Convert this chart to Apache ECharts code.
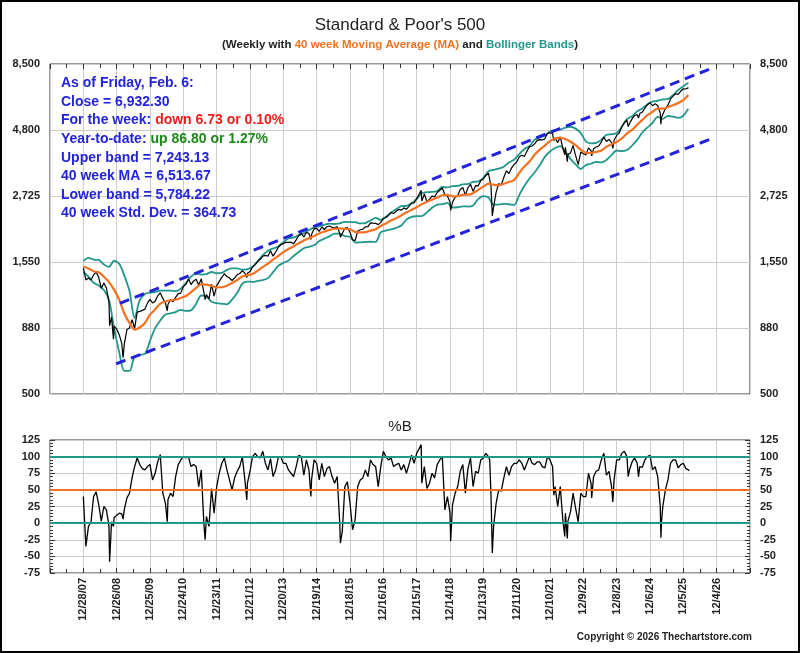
<!DOCTYPE html>
<html>
<head>
<meta charset="utf-8">
<title>Standard & Poor's 500 - weekly with Bollinger Bands</title>
<script src="https://cdn.jsdelivr.net/npm/echarts@6/dist/echarts.min.js"></script>
<style>
  html, body { margin: 0; padding: 0; background: #fff; }
  #chart { width: 800px; height: 653px; }
</style>
</head>
<body>
<div id="chart"></div>
<script>
// x values are weeks counted from Friday 12/28/07 (week 0)
const DATE_LABELS = ['12/28/07', '12/26/08', '12/25/09', '12/24/10', '12/23/11', '12/21/12', '12/20/13',
  '12/19/14', '12/18/15', '12/16/16', '12/15/17', '12/14/18', '12/13/19', '12/11/20', '12/10/21',
  '12/9/22', '12/8/23', '12/6/24', '12/5/25', '12/4/26']

const PRICE_TICKS = ['500', '880', '1,550', '2,725', '4,800', '8,500']

// weekly close, sampled every 4 weeks from week 0
const CLOSE_4W = [
  1478, 1331, 1353, 1330, 1390, 1425, 1360, 1239, 1296, 1242, 1099, 968, 896,
  873, 832, 770, 769, 870, 882, 946, 879, 1010, 1016, 1025, 1036, 1091,
  1126, 1092, 1109, 1160, 1192, 1136, 1092, 1078, 1122, 1105, 1146, 1183, 1189,
  1257, 1283, 1343, 1279, 1320, 1338, 1271, 1344, 1199, 1174, 1131, 1285, 1159,
  1265, 1315, 1361, 1404, 1370, 1353, 1325, 1355, 1391, 1407, 1441, 1411, 1409,
  1430, 1486, 1519, 1561, 1589, 1634, 1643, 1632, 1709, 1633, 1692, 1760, 1804,
  1818, 1839, 1838, 1841, 1815, 1878, 1950, 1985, 1925, 2003, 1982, 1965, 2064,
  2071, 2019, 2097, 2053, 2102, 2116, 2092, 2077, 2104, 1989, 1931, 2075, 2089,
  2005, 1880, 1865, 2022, 2048, 2057, 2099, 2103, 2174, 2169, 2165, 2141, 2182,
  2258, 2275, 2316, 2373, 2355, 2399, 2439, 2423, 2472, 2443, 2502, 2575, 2579,
  2676, 2786, 2620, 2786, 2604, 2663, 2735, 2718, 2819, 2875, 2930, 2768, 2736,
  2600, 2596, 2708, 2743, 2893, 2946, 2752, 2942, 3026, 2847, 2992, 2986, 3120,
  3169, 3265, 3328, 2972, 2489, 2831, 3044, 3009, 3216, 3397, 3319, 3484, 3585,
  3663, 3825, 3887, 3842, 4020, 4181, 4204, 4281, 4412, 4442, 4433, 4471, 4683,
  4712, 4677, 4501, 4329, 4546, 4132, 4158, 3912, 3962, 4228, 3873, 3583, 3993,
  3934, 3895, 4136, 4046, 4109, 4169, 4205, 4348, 4536, 4370, 4450, 4327, 4415,
  4604, 4697, 4959, 5137, 5254, 5100, 5305, 5465, 5505, 5554, 5626, 5815, 5996,
  6090, 5942, 6041, 5955, 5581, 5525, 5803, 5968, 6297, 6450, 6584, 6553, 6729,
  6870, 6858, 6939
]
// extra weekly closes at the turning points [week, close]
const CLOSE_EXTRA = [
  [41, 899], [47, 800], [62, 683], [131, 1022], [190, 1124], [255, 1359], [355, 1887],
  [401, 1921], [527, 2873], [573, 2417], [634, 3338], [638, 2305], [734, 4398], [751, 3901],
  [755, 3675], [793, 3862], [826, 4117], [850, 4967], [866, 5347], [901, 5074], [902, 5363],
  [945, 6932.30]
]

// 40 week moving average and Bollinger bands, every 8 weeks from week 0
const MA_8W = [
  1495, 1470, 1434, 1421, 1368, 1307, 1225, 1123, 998, 920, 869, 885, 920,
  988, 1033, 1086, 1106, 1118, 1123, 1140, 1159, 1199, 1244, 1281, 1279, 1265,
  1249, 1250, 1266, 1297, 1330, 1372, 1387, 1401, 1441, 1489, 1531, 1584, 1637,
  1691, 1737, 1775, 1824, 1869, 1906, 1941, 1984, 2016, 2047, 2066, 2072, 2064,
  2058, 2011, 2001, 2007, 2034, 2058, 2116, 2162, 2216, 2263, 2316, 2375, 2430,
  2486, 2552, 2604, 2653, 2699, 2754, 2763, 2730, 2735, 2765, 2768, 2805, 2884,
  2967, 3043, 3017, 3000, 3040, 3087, 3135, 3337, 3523, 3680, 3897, 4076, 4217,
  4384, 4482, 4521, 4464, 4361, 4232, 4072, 3967, 3956, 3997, 4042, 4175, 4270,
  4353, 4491, 4675, 4825, 5044, 5260, 5476, 5640, 5799, 5790, 5872, 5965, 6076,
  6236, 6505
]
const UPPER_8W = [
  1565, 1610, 1585, 1580, 1520, 1490, 1570, 1530, 1380, 1210, 960, 1120, 1180,
  1195, 1200, 1215, 1215, 1215, 1210, 1235, 1295, 1370, 1405, 1395, 1400, 1425,
  1410, 1415, 1452, 1470, 1470, 1455, 1462, 1492, 1562, 1648, 1710, 1745, 1772,
  1842, 1900, 1915, 1955, 1990, 2043, 2090, 2110, 2135, 2158, 2152, 2165, 2190,
  2188, 2186, 2163, 2170, 2220, 2270, 2228, 2290, 2378, 2444, 2508, 2515, 2573,
  2671, 2800, 2830, 2833, 2857, 2956, 2945, 2980, 2985, 3025, 3035, 3087, 3102,
  3200, 3385, 3425, 3460, 3520, 3650, 3735, 3917, 4100, 4200, 4440, 4520, 4600,
  4760, 4830, 4840, 4920, 4960, 4880, 4700, 4370, 4300, 4320, 4430, 4620, 4650,
  4700, 4960, 5290, 5430, 5660, 5800, 6020, 6150, 6200, 6270, 6300, 6520, 6800,
  7020, 7230
]
const LOWER_8W = [
  1425, 1370, 1300, 1270, 1220, 1120, 880, 715, 610, 610, 690, 700, 705,
  790, 880, 940, 990, 1000, 1010, 1030, 1020, 1025, 1085, 1165, 1155, 1105,
  1090, 1085, 1080, 1125, 1190, 1290, 1312, 1310, 1320, 1330, 1352, 1423, 1502,
  1540, 1574, 1635, 1693, 1748, 1769, 1792, 1858, 1897, 1936, 1980, 1979, 1938,
  1928, 1836, 1839, 1844, 1848, 1846, 2004, 2034, 2054, 2082, 2124, 2235, 2287,
  2301, 2304, 2378, 2473, 2541, 2552, 2581, 2480, 2485, 2505, 2500, 2523, 2666,
  2734, 2701, 2540, 2540, 2560, 2550, 2535, 2757, 2980, 3180, 3350, 3560, 3830,
  4010, 4130, 4200, 4010, 3760, 3590, 3450, 3570, 3610, 3670, 3650, 3730, 3890,
  4045, 4020, 4060, 4220, 4430, 4720, 4930, 5130, 5400, 5310, 5440, 5410, 5350,
  5450, 5780
]
const LAST_WEEK = 945
const LAST_MA = 6513.67
const LAST_UPPER = 7243.13
const LAST_LOWER = 5784.22

// %B every 4 weeks from week 0, plus turning points
const PCTB_4W = [
  40, -35, -5, 2, 40, 47, 28, 3, 25, 20, -5, 2, 8,
  12, 15, 14, 21, 38, 45, 68, 85, 98, 88, 82, 80, 85,
  88, 65, 75, 92, 103, 45, 30, 35, 45, 40, 70, 88, 95,
  100, 98, 100, 85, 88, 85, 55, 80, 0, 10, -5, 52, 15,
  55, 75, 90, 98, 80, 65, 50, 68, 78, 85, 100, 65, 60,
  78, 100, 105, 100, 98, 108, 90, 80, 97, 70, 80, 98, 100,
  90, 90, 80, 75, 70, 85, 102, 100, 72, 95, 80, 65, 95,
  90, 65, 90, 70, 82, 85, 70, 60, 70, 0, -12, 55, 62,
  30, -10, 5, 55, 65, 68, 80, 70, 95, 88, 85, 55, 85,
  108, 100, 95, 98, 85, 88, 90, 80, 88, 75, 88, 102, 90,
  105, 112, 60, 85, 52, 60, 75, 68, 88, 95, 100, 20, 40,
  15, 28, 45, 55, 78, 88, 45, 82, 98, 55, 78, 75, 95,
  98, 105, 100, 40, -5, 30, 50, 48, 68, 85, 72, 85, 90,
  90, 95, 90, 80, 90, 100, 90, 88, 92, 92, 85, 83, 100,
  95, 85, 55, 25, 55, 5, 15, 3, 17, 45, 22, 2, 45,
  40, 40, 75, 60, 70, 78, 80, 95, 105, 72, 78, 55, 65,
  95, 95, 105, 108, 100, 80, 92, 98, 90, 85, 84, 95, 100,
  102, 80, 85, 70, 25, 25, 50, 65, 90, 95, 95, 83, 88,
  90, 82, 80
]
const PCTB_EXTRA = [
  [41, -58], [47, -5], [62, 6], [131, 2], [190, -25], [255, 35], [355, 40], [401, -30],
  [527, 118], [573, -27], [634, 95], [638, -45], [734, 42], [751, -20], [755, -23],
  [793, 38], [826, 32], [850, 70], [866, 70], [901, -22], [902, 3], [945, 78.7]
]

// trend channel drawn by hand on the original: [week, level]
const CHANNEL_UPPER = [[57, 1089], [980, 8190]]
const CHANNEL_LOWER = [[51, 648], [982, 4491]]

const PCTB_LEVELS = [100, 50, 0]

const BLUE = '#2323dc'
const TEAL = '#22978c'
const ORANGE = '#f27221'
const GRIDLINE = '#cccccc'
const AXIS = '#333'
const FONT = 'Liberation Sans, Arial, sans-serif'

function withWeeks(values, step, extra) {
  const pts = values.map((v, i) => [i * step, v]).concat(extra)
  pts.sort((a, b) => a[0] - b[0])
  return pts
}

const closeData = withWeeks(CLOSE_4W, 4, CLOSE_EXTRA)
const maData = withWeeks(MA_8W, 8, [[LAST_WEEK, LAST_MA]])
const upperData = withWeeks(UPPER_8W, 8, [[LAST_WEEK, LAST_UPPER]])
const lowerData = withWeeks(LOWER_8W, 8, [[LAST_WEEK, LAST_LOWER]])
const pctbData = withWeeks(PCTB_4W, 4, PCTB_EXTRA)

function dateLabel(v) {
  const i = Math.round(v / 52)
  if (Math.abs(v - i * 52) > 0.01) return ''
  return DATE_LABELS[i] || ''
}

const labelStyle = { color: '#222', fontFamily: FONT, fontSize: 11, fontWeight: 'bold' }
const noLine = { show: false, onZero: false }

const xBase = {
  type: 'value',
  min: -52,
  max: 1040,
  interval: 52,
  axisLine: noLine,
  axisTick: { show: false },
  axisLabel: { show: false },
  splitLine: { show: false }
}
const xTicks = {
  axisTick: { show: true, inside: true, length: 5, lineStyle: { color: AXIS } },
  minorTick: { show: true, splitNumber: 2, length: 4, lineStyle: { color: AXIS } }
}
const xGridLines = { splitLine: { show: true, lineStyle: { color: GRIDLINE, width: 1 } } }
const pctbTicks = {
  axisTick: { show: true, inside: true, length: 5, lineStyle: { color: AXIS } },
  minorTick: { show: true, splitNumber: 5, length: 3, lineStyle: { color: AXIS } }
}

const chart = echarts.init(document.getElementById('chart'), null, { renderer: 'canvas' })

const option = {
  animation: false,
  backgroundColor: '#fff',
  title: [{
    text: "Standard & Poor's 500",
    subtext: '{d|(Weekly with }{o|40 week Moving Average (MA)}{d| and }{t|Bollinger Bands}{d|)}',
    left: 'center',
    top: 12,
    itemGap: 5,
    textStyle: { fontFamily: FONT, fontSize: 17, fontWeight: 'normal', color: '#222' },
    subtextStyle: {
      rich: {
        d: { fontFamily: FONT, fontSize: 11.5, fontWeight: 'bold', color: '#222' },
        o: { fontFamily: FONT, fontSize: 11.5, fontWeight: 'bold', color: ORANGE },
        t: { fontFamily: FONT, fontSize: 11.5, fontWeight: 'bold', color: TEAL }
      }
    }
  }, {
    text: '%B',
    left: 'center',
    top: 414,
    textStyle: { fontFamily: FONT, fontSize: 15, fontWeight: 'normal', color: '#222' }
  }],
  grid: [
    { left: 50, right: 50, top: 64, height: 330, show: true, borderColor: AXIS, borderWidth: 1, backgroundColor: 'transparent' },
    { left: 50, right: 50, top: 440, height: 133, show: true, borderColor: AXIS, borderWidth: 1, backgroundColor: 'transparent' }
  ],
  xAxis: [
    Object.assign({}, xBase, xGridLines, { gridIndex: 0, position: 'bottom' }),
    Object.assign({}, xBase, xTicks, { gridIndex: 0, position: 'top' }),
    Object.assign({}, xBase, xTicks, xGridLines, { gridIndex: 1, position: 'bottom',
      axisLabel: Object.assign({ show: true, rotate: 90, margin: 5, formatter: dateLabel }, labelStyle) })
  ],
  yAxis: [
    // log scale the price series are drawn on
    { type: 'log', gridIndex: 0, min: 500, max: 8500, show: false, axisLine: noLine },
    // evenly spaced rulings of the log scale, labelled like the original
    { type: 'value', gridIndex: 0, position: 'left', min: 0, max: 5, interval: 1,
      axisLine: noLine, axisTick: { show: false },
      axisLabel: Object.assign({ margin: 10, formatter: v => PRICE_TICKS[v] || '' }, labelStyle),
      splitLine: { show: true, lineStyle: { color: GRIDLINE, width: 1 } } },
    { type: 'value', gridIndex: 0, position: 'right', min: 0, max: 5, interval: 1,
      axisLine: noLine, axisTick: { show: false },
      axisLabel: Object.assign({ margin: 10, formatter: v => PRICE_TICKS[v] || '' }, labelStyle),
      splitLine: { show: false } },
    Object.assign({ type: 'value', gridIndex: 1, position: 'left', min: -75, max: 125, interval: 25,
      axisLine: noLine,
      axisLabel: Object.assign({ margin: 10 }, labelStyle),
      splitLine: { show: true, lineStyle: { color: GRIDLINE, width: 1 } } }, pctbTicks),
    Object.assign({ type: 'value', gridIndex: 1, position: 'right', min: -75, max: 125, interval: 25,
      axisLine: noLine,
      axisLabel: Object.assign({ margin: 10 }, labelStyle),
      splitLine: { show: false } }, pctbTicks)
  ],
  series: [
    { name: 'Upper band', type: 'line', xAxisIndex: 0, yAxisIndex: 0, data: upperData,
      symbol: 'none', smooth: 0.3, lineStyle: { color: TEAL, width: 1.8 }, z: 2 },
    { name: 'Lower band', type: 'line', xAxisIndex: 0, yAxisIndex: 0, data: lowerData,
      symbol: 'none', smooth: 0.3, lineStyle: { color: TEAL, width: 1.8 }, z: 2 },
    { name: 'S&P 500', type: 'line', xAxisIndex: 0, yAxisIndex: 0, data: closeData,
      symbol: 'none', lineStyle: { color: '#000', width: 1.2 }, z: 3 },
    { name: '40 week MA', type: 'line', xAxisIndex: 0, yAxisIndex: 0, data: maData,
      symbol: 'none', smooth: 0.3, lineStyle: { color: ORANGE, width: 2.2 }, z: 4 },
    { name: 'Channel top', type: 'line', xAxisIndex: 0, yAxisIndex: 0, data: CHANNEL_UPPER,
      symbol: 'none', lineStyle: { color: BLUE, width: 3, type: [10, 6] }, z: 5 },
    { name: 'Channel bottom', type: 'line', xAxisIndex: 0, yAxisIndex: 0, data: CHANNEL_LOWER,
      symbol: 'none', lineStyle: { color: BLUE, width: 3, type: [10, 6] }, z: 5 },
    { name: 'Levels', type: 'line', xAxisIndex: 2, yAxisIndex: 3, data: [], z: 2,
      markLine: {
        silent: true, symbol: 'none', label: { show: false }, animation: false,
        data: PCTB_LEVELS.map(lv => ({
          yAxis: lv,
          lineStyle: { color: lv === 50 ? ORANGE : TEAL, width: 2, type: 'solid' }
        }))
      } },
    { name: '%B', type: 'line', xAxisIndex: 2, yAxisIndex: 3, data: pctbData,
      symbol: 'none', lineStyle: { color: '#000', width: 1.3 }, z: 4 }
  ],
  graphic: [
    { type: 'rect', shape: { x: 1, y: 1, width: 798, height: 651 },
      style: { fill: 'none', stroke: '#000', lineWidth: 2 }, silent: true, z: 100 },
    { type: 'text', x: 61, y: 74, silent: true, z: 50,
      style: {
        text: [
          'As of Friday, Feb. 6:',
          'Close = 6,932.30',
          'For the week: {r|down 6.73 or 0.10%}',
          'Year-to-date: {g|up 86.80 or 1.27%}',
          'Upper band = 7,243.13',
          '40 week MA = 6,513.67',
          'Lower band = 5,784.22',
          '40 week Std. Dev. = 364.73'
        ].join('\n'),
        fill: BLUE,
        font: 'bold 14px ' + FONT,
        lineHeight: 18.6,
        textVerticalAlign: 'top',
        rich: {
          r: { fill: '#ee1c1c', fontFamily: FONT, fontSize: 14, fontWeight: 'bold', lineHeight: 18.6 },
          g: { fill: '#1a8a1a', fontFamily: FONT, fontSize: 14, fontWeight: 'bold', lineHeight: 18.6 }
        }
      } },
    { type: 'text', right: 48, top: 632, silent: true,
      style: { text: 'Copyright © 2026 Thechartstore.com', fill: '#222', font: 'bold 10px ' + FONT } }
  ]
}

chart.setOption(option)
</script>
</body>
</html>
